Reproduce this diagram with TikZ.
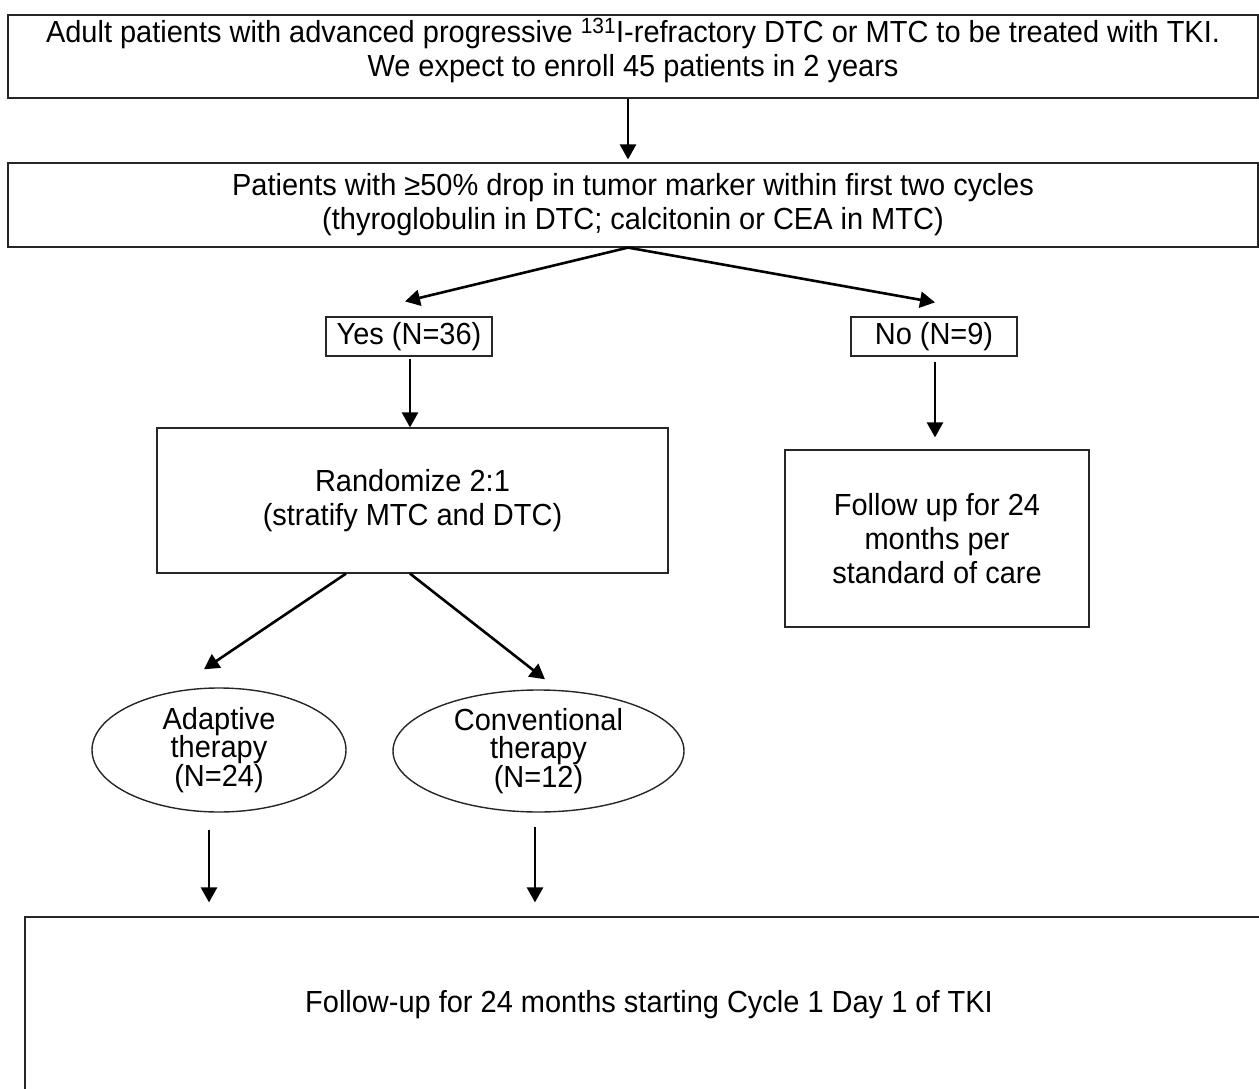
\documentclass[tikz,border=0pt]{standalone}
\usepackage{fontspec}
\setmainfont[FakeStretch=0.95]{Liberation Sans}
\usetikzlibrary{arrows.meta,shapes.geometric,calc}
\begin{document}
\begin{tikzpicture}[x=1pt,y=-1pt,
  box/.style={draw=black!85, line width=1.2pt, rectangle, inner sep=0pt, align=center,
    font=\fontsize{30.5}{34}\selectfont},
  oval/.style={draw=black!85, line width=1.4pt, ellipse, inner sep=0pt, align=center,
    font=\fontsize{30.5}{28.5}\selectfont},
  arr/.style={-{Triangle[length=15pt,width=16pt]}, line width=2.6pt}]
\useasboundingbox (0,0) rectangle (1259,1089);
\node[box, minimum width=1250, minimum height=83, text depth=18pt] (top) at (633,56.5)
  {Adult patients with advanced progressive \textsuperscript{\fontsize{22}{22}\selectfont 131}I-refractory DTC or MTC to be treated with TKI.\\
   We expect to enroll 45 patients in 2 years};
\node[box, minimum width=1250, minimum height=84] (mark) at (633,205)
  {Patients with ≥50\% drop in tumor marker within first two cycles\\
   (thyroglobulin in DTC; calcitonin or CEA in MTC)};
\node[box, minimum width=166, minimum height=39] (yes) at (409,336.5) {Yes (N=36)};
\node[box, minimum width=166, minimum height=39] (no) at (934,336.5) {No (N=9)};
\node[box, minimum width=511, minimum height=145] (rand) at (412.5,500.5)
  {Randomize 2:1\\(stratify MTC and DTC)};
\node[box, minimum width=304, minimum height=177] (fu) at (937,538.5)
  {Follow up for 24\\months per\\standard of care};
\node[oval, minimum width=254, minimum height=124] (adapt) at (219,750)
  {Adaptive\\therapy\\(N=24)};
\node[oval, minimum width=291, minimum height=122] (conv) at (538.5,751)
  {Conventional\\therapy\\(N=12)};
\node[box, minimum width=1248, minimum height=176] (bottom) at (649,1005)
  {Follow-up for 24 months starting Cycle 1 Day 1 of TKI};
\draw[arr] ([xshift=-5pt]top.south) -- ([xshift=-5pt,yshift=3pt]top.south |- mark.north);
\draw[arr] ([xshift=-5pt]mark.south) -- ([xshift=-4pt,yshift=15pt]yes.north);
\draw[arr] ([xshift=-5pt]mark.south) -- ([xshift=1pt,yshift=14pt]no.north);
\draw[arr, shorten <=2pt] ([xshift=1pt]yes.south) -- ([xshift=1pt]yes.south |- rand.north);
\draw[arr, shorten <=5pt] ([xshift=1pt]no.south) -- ([xshift=1pt,yshift=12pt]no.south |- fu.north);
\draw[arr] ([xshift=-66.5pt]rand.south) -- ([xshift=-15pt,yshift=18pt]adapt.north);
\draw[arr] ([xshift=-2.5pt]rand.south) -- ([xshift=6.5pt,yshift=10pt]conv.north);
\draw[arr, shorten <=17pt] ([xshift=-10pt]adapt.south) -- ([xshift=-10pt,yshift=14pt]adapt.south |- bottom.north);
\draw[arr, shorten <=14pt] ([xshift=-3.5pt]conv.south) -- ([xshift=-3.5pt,yshift=14pt]conv.south |- bottom.north);
\end{tikzpicture}
\end{document}
